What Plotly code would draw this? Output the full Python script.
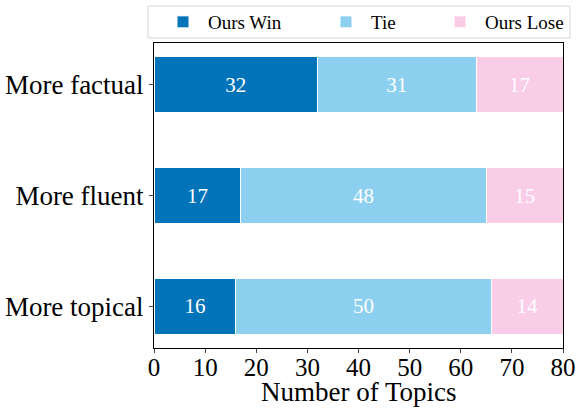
import plotly.graph_objects as go

categories = ["More factual", "More fluent", "More topical"]
win = [32, 17, 16]
tie = [31, 48, 50]
lose = [17, 15, 14]
series_names = ["Ours Win", "Tie", "Ours Lose"]
colors = ["#0173b9", "#8dcfef", "#f9cce7"]
x_ticks = [0, 10, 20, 30, 40, 50, 60, 70, 80]
x_title = "Number of Topics"

FONT = "Liberation Serif, Times New Roman, serif"
W, H = 584, 415
ML, MR, MT, MB = 154, 21, 43, 67
legend_ids = ["legend", "legend2", "legend3"]
legend_text_x = [208, 371, 485]   # pixel where each legend label starts

fig = go.Figure()
for name, vals, col, lg in zip(series_names, [win, tie, lose], colors, legend_ids):
    fig.add_trace(go.Bar(
        y=categories, x=vals, orientation="h", name=name, legend=lg,
        marker=dict(color=col, line=dict(color="white", width=1)),
        width=0.5,
        text=[str(v) for v in vals], textposition="inside",
        insidetextanchor="middle",
        textfont=dict(color="white", size=21, family=FONT),
    ))

legend_common = dict(
    orientation="h", xref="container", yref="container",
    xanchor="left", y=1 - 22 / H, yanchor="middle",
    bgcolor="rgba(0,0,0,0)", borderwidth=0,
    font=dict(size=19, family=FONT, color="black"),
    itemwidth=40,
)
legends = {}
for lg, tx in zip(legend_ids, legend_text_x):
    legends[lg] = dict(legend_common, x=(tx - 50) / W)

pw = W - ML - MR
ph = H - MT - MB
x0 = (148 - ML) / pw
x1 = (570 - ML) / pw
y0 = 1 + (MT - 38) / ph
y1 = 1 + (MT - 6) / ph

fig.update_layout(
    barmode="stack",
    width=W, height=H,
    margin=dict(l=ML, r=MR, t=MT, b=MB, autoexpand=False),
    paper_bgcolor="white", plot_bgcolor="white",
    font=dict(family=FONT, color="black"),
    showlegend=True,
    shapes=[dict(type="rect", xref="paper", yref="paper",
                 x0=x0, x1=x1, y0=y0, y1=y1,
                 line=dict(color="#d6d6d6", width=1), fillcolor="white",
                 layer="below")],
    annotations=[dict(text=x_title, xref="paper", yref="paper",
                      x=0.5, xanchor="center",
                      y=-(392 - (H - MB)) / ph, yanchor="middle",
                      showarrow=False, font=dict(size=27, family=FONT))],
    xaxis=dict(
        range=[0, 80], tickvals=x_ticks, ticks="outside", ticklen=4,
        tickfont=dict(size=25), showgrid=False, zeroline=False,
        ticklabelstandoff=-7,
        showline=True, linecolor="black", linewidth=1, mirror=True,
    ),
    yaxis=dict(
        categoryorder="array", categoryarray=categories[::-1],
        range=[-0.375, 2.375], ticks="outside", ticklen=4,
        tickfont=dict(size=27), showgrid=False, zeroline=False,
        showline=True, linecolor="black", linewidth=1, mirror=True,
    ),
    **legends,
)

fig.write_html("out.html")
